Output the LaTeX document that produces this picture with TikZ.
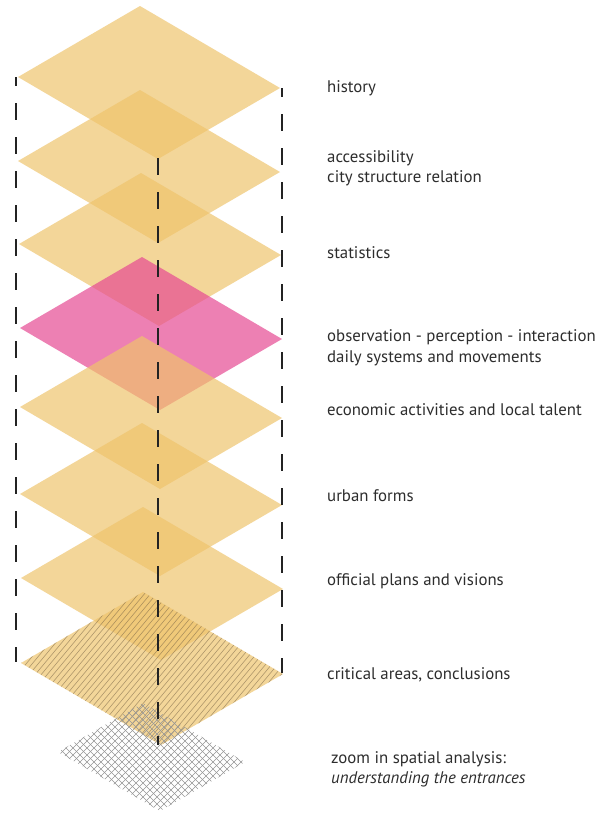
\documentclass[tikz,border=0pt]{standalone}
\usepackage{fontspec}
\setmainfont{PT Sans}
\definecolor{tan}{RGB}{239,196,108}
\definecolor{pinkc}{RGB}{230,71,146}
\definecolor{guidec}{RGB}{35,35,35}
\definecolor{txt}{RGB}{45,45,45}
\definecolor{hatchc}{RGB}{120,100,70}
\definecolor{gridc}{RGB}{150,150,150}
\newcommand\layer[4]{\path[#4] (#2,#3) coordinate (#1t) -- ++(-122,71) coordinate (#1l) -- ++(140,82) coordinate (#1b) -- ++(122,-71) coordinate (#1r) -- cycle;}
\begin{document}
\begin{tikzpicture}[x=1pt,y=-1pt,
  plane/.style={fill=tan,fill opacity=0.69},
  pinkplane/.style={fill=pinkc,fill opacity=0.69},
  guide/.style={draw=guidec,line width=1.4pt,dash pattern=on 17pt off 17pt},
  hatchline/.style={draw=hatchc,line width=0.6pt,draw opacity=0.55},
  gridline/.style={draw=gridc,line width=0.6pt},
  lbl/.style={anchor=base west,inner sep=0pt,font=\fontsize{16.8}{20}\selectfont,text=txt}]
\useasboundingbox (0,0) rectangle (603,815);
\fill[white] (0,0) rectangle (603,815);
% layers
\layer{a}{140}{6}{plane}
\layer{b}{140}{90}{plane}
\layer{c}{141}{173}{plane}
\layer{d}{142}{257}{pinkplane}
\layer{e}{142}{336}{plane}
\layer{f}{142}{423}{plane}
\layer{g}{143}{507}{plane}
\layer{h}{143}{592}{plane}
% hatch on last layer
\begin{scope}
  \clip (ht) -- (hl) -- (hb) -- (hr) -- cycle;
  \foreach \i in {-180,-174,...,300} \draw[hatchline] (\i,760) -- ++(150,-180);
\end{scope}
% grid plane
\coordinate (gt) at (143,703);
\coordinate (gl) at (58,752);
\coordinate (gb) at (160,811);
\coordinate (gr) at (245,762);
\begin{scope}
  \clip (gt) -- (gl) -- (gb) -- (gr) -- cycle;
  \foreach \i in {-90,-83,...,260} {
    \draw[gridline] (\i,820) -- ++(130,-130);
    \draw[gridline] (\i,690) -- ++(130,130);
  }
\end{scope}
% guide lines
\coordinate (L1) at (16,77);  \coordinate (L2) at (16,662);
\coordinate (R1) at (282,88); \coordinate (R2) at (282,673);
\coordinate (C1) at (158,158); \coordinate (C2) at (158,745);
\draw[guide,dash phase=8pt] (L1) -- (L2);
\draw[guide,dash phase=8pt] (R1) -- (R2);
\draw[guide] (C1) -- (C2);
% labels
\node[lbl] (t1) at (327,92) {history};
\node[lbl] (t2) at (327,162) {accessibility};
\node[lbl] (t3) at (327,182) {city structure relation};
\node[lbl] (t4) at (327,258) {statistics};
\node[lbl] (t5) at (327,341) {observation - perception - interaction};
\node[lbl] (t6) at (327,362) {daily systems and movements};
\node[lbl] (t7) at (327,415) {economic activities and local talent};
\node[lbl] (t8) at (327,501) {urban forms};
\node[lbl] (t9) at (327,585) {official plans and visions};
\node[lbl] (t10) at (327,679) {critical areas, conclusions};
\node[lbl] (t11) at (331,763) {zoom in spatial analysis:};
\node[lbl] (t12) at (331,783) {\itshape understanding the entrances};
\end{tikzpicture}
\end{document}
